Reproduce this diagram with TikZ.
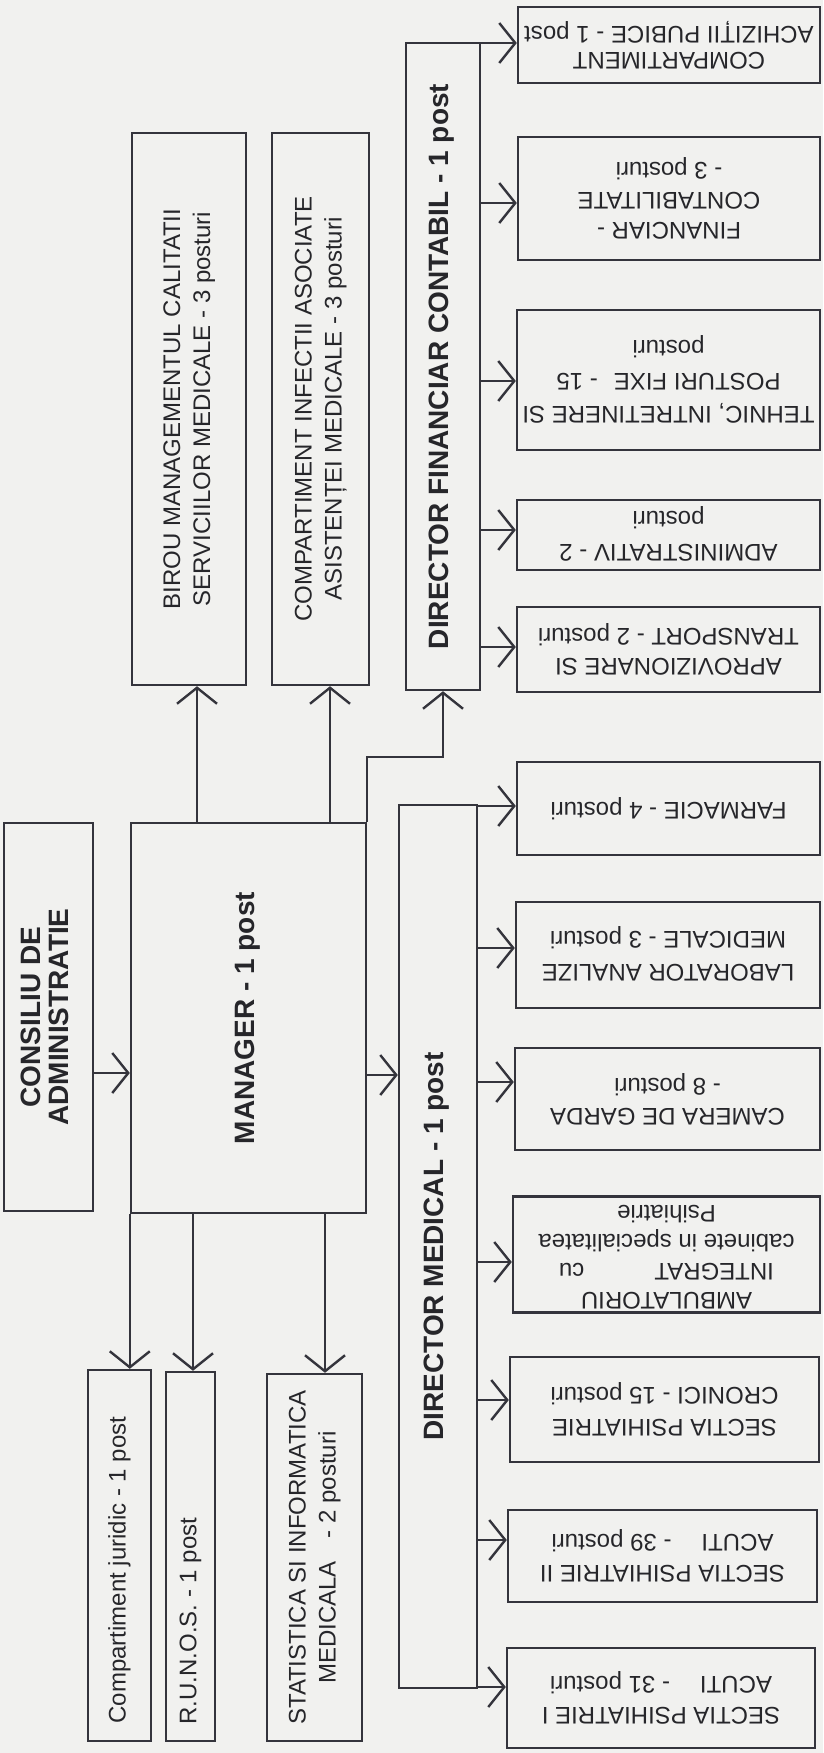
\documentclass[tikz,border=0pt]{standalone}
\usepackage{fontspec}
\usepackage{graphicx}
\setmainfont{Liberation Sans}
\usetikzlibrary{arrows.meta}
\definecolor{paper}{RGB}{241,241,239}
\definecolor{ink}{RGB}{52,52,60}
\definecolor{txt}{RGB}{38,38,42}
\newcommand\rtext[2]{\rotatebox{#1}{\begin{tabular}{@{}c@{}}#2\end{tabular}}}
\begin{document}
\begin{tikzpicture}[x=1pt,y=-1pt,
  box/.style={draw=ink, line width=2.4pt, inner sep=0pt, text=txt,
    font=\fontsize{24}{30}\selectfont},
  bbox/.style={box, font=\bfseries\fontsize{28}{26}\selectfont},
  arr/.style={draw=ink, line width=2.4pt,
    -{Straight Barb[length=16pt,width=40pt,line width=2.4pt]}}]
\useasboundingbox (0,0) rectangle (823,1753);
\fill[paper] (0,0) rectangle (823,1753);

% left / central column
\node[bbox, minimum width=89pt, minimum height=388pt] (cons) at (48.5,1017)
  {\rtext{90}{CONSILIU DE\\ADMINISTRATIE}};
\node[bbox, minimum width=235pt, minimum height=390pt] (man) at (248.5,1018)
  {\rtext{90}{MANAGER - 1 post}};
\node[box, minimum width=114pt, minimum height=552pt] (birou) at (189,409)
  {\rtext{90}{BIROU MANAGEMENTUL CALITATII\\SERVICIILOR MEDICALE - 3 posturi}};
\node[box, minimum width=97pt, minimum height=552pt] (comp) at (320.5,409)
  {\rtext{90}{COMPARTIMENT INFECTII ASOCIATE\\ASISTENȚEI MEDICALE - 3 posturi}};
\node[bbox, minimum width=74pt, minimum height=647pt] (dfin) at (443,366.5)
  {\rtext{90}{DIRECTOR FINANCIAR CONTABIL - 1 post}};
\node[bbox, minimum width=78pt, minimum height=883pt] (dmed) at (438,1246.5)
  {\rtext{90}{DIRECTOR MEDICAL - 1 post}};
\node[box, minimum width=63pt, minimum height=371pt] (jur) at (119.5,1555.5)
  {\rotatebox{90}{\makebox[336pt][l]{Compartiment juridic - 1 post}}};
\node[box, minimum width=49pt, minimum height=369pt] (runos) at (190.5,1556.5)
  {\rotatebox{90}{\makebox[336pt][l]{R.U.N.O.S. - 1 post}}};
\node[box, minimum width=95pt, minimum height=367pt] (stat) at (314.5,1557.5)
  {\rtext{90}{STATISTICA SI INFORMATICA\\MEDICALA\hspace{23pt}- 2 posturi}};

% financial children
\node[box, minimum width=302pt, minimum height=76pt, font=\fontsize{24}{26}\selectfont] (ach) at (669,45)
  {\rtext{180}{COMPARTIMENT\\ACHIZIȚII PUBICE - 1 post}};
\node[box, minimum width=302pt, minimum height=123pt] (fin) at (669,198.5)
  {\rtext{180}{FINANCIAR -\\CONTABILITATE\\- 3 posturi}};
\node[box, minimum width=303pt, minimum height=140pt, font=\fontsize{24}{33}\selectfont] (teh) at (668.5,380)
  {\rtext{180}{TEHNIC, INTRETINERE SI\\POSTURI FIXE\hspace{16pt}- 15\\posturi}};
\node[box, minimum width=303pt, minimum height=70pt, font=\fontsize{24}{33}\selectfont] (adm) at (668.5,535)
  {\rtext{180}{ADMINISTRATIV - 2\\posturi}};
\node[box, minimum width=303pt, minimum height=85pt] (apr) at (668.5,649.5)
  {\rtext{180}{APROVIZIONARE SI\\TRANSPORT - 2 posturi}};

% medical children
\node[box, minimum width=303pt, minimum height=93pt] (farm) at (668.5,808.5)
  {\rtext{180}{FARMACIE - 4 posturi}};
\node[box, minimum width=304pt, minimum height=106pt, font=\fontsize{24}{33}\selectfont] (lab) at (668,955)
  {\rtext{180}{LABORATOR ANALIZE\\MEDICALE - 3 posturi}};
\node[box, minimum width=305pt, minimum height=102pt] (cam) at (667.5,1099)
  {\rtext{180}{CAMERA DE GARDA\\- 8 posturi}};
\node[box, minimum width=307pt, minimum height=115pt, font=\fontsize{24}{29}\selectfont] (amb) at (666.5,1254.5)
  {\rtext{180}{AMBULATORIU\\INTEGRAT\hspace{70pt}cu\\cabinete in specialitatea\\Psihiatrie}};
\node[box, minimum width=309pt, minimum height=105pt, font=\fontsize{24}{32}\selectfont] (cron) at (664.5,1409.5)
  {\rtext{180}{SECTIA PSIHIATRIE\\CRONICI - 15 posturi}};
\node[box, minimum width=309pt, minimum height=92pt, font=\fontsize{24}{31}\selectfont] (s2) at (662.5,1556)
  {\rtext{180}{SECTIA PSIHIATRIE II\\ACUTI\hspace{30pt}- 39 posturi}};
\node[box, minimum width=308pt, minimum height=100pt, font=\fontsize{24}{31}\selectfont] (s1) at (661,1698)
  {\rtext{180}{SECTIA PSIHIATRIE I\\ACUTI\hspace{30pt}- 31 posturi}};

% connectors from manager
\draw[arr] (cons.east |- 0,1073) -- (man.west |- 0,1073);
\draw[arr] (man.north -| 197,0) -- (birou.south -| 197,0);
\draw[arr] (man.north -| 330,0) -- (comp.south -| 330,0);
\draw[arr] (man.north east) -- (man.north east |- 0,757) -| (dfin.south -| 443,0);
\draw[arr] (man.east |- 0,1075) -- (dmed.west |- 0,1075);
\draw[arr] (man.south west) -- (jur.north -| man.south west);
\draw[arr] (man.south -| 193,0) -- (runos.north -| 193,0);
\draw[arr] (man.south -| 325,0) -- (stat.north -| 325,0);

% financial director to its compartments
\foreach \n/\yy in {ach/43, fin/203, teh/381, adm/530, apr/647}
  \draw[arr] (dfin.east |- 0,\yy) -- (\n.west |- 0,\yy);
% medical director to its sections
\foreach \n/\yy in {farm/806, lab/948, cam/1082, amb/1262, cron/1400, s2/1540, s1/1687}
  \draw[arr] (dmed.east |- 0,\yy) -- (\n.west |- 0,\yy);
\end{tikzpicture}
\end{document}
